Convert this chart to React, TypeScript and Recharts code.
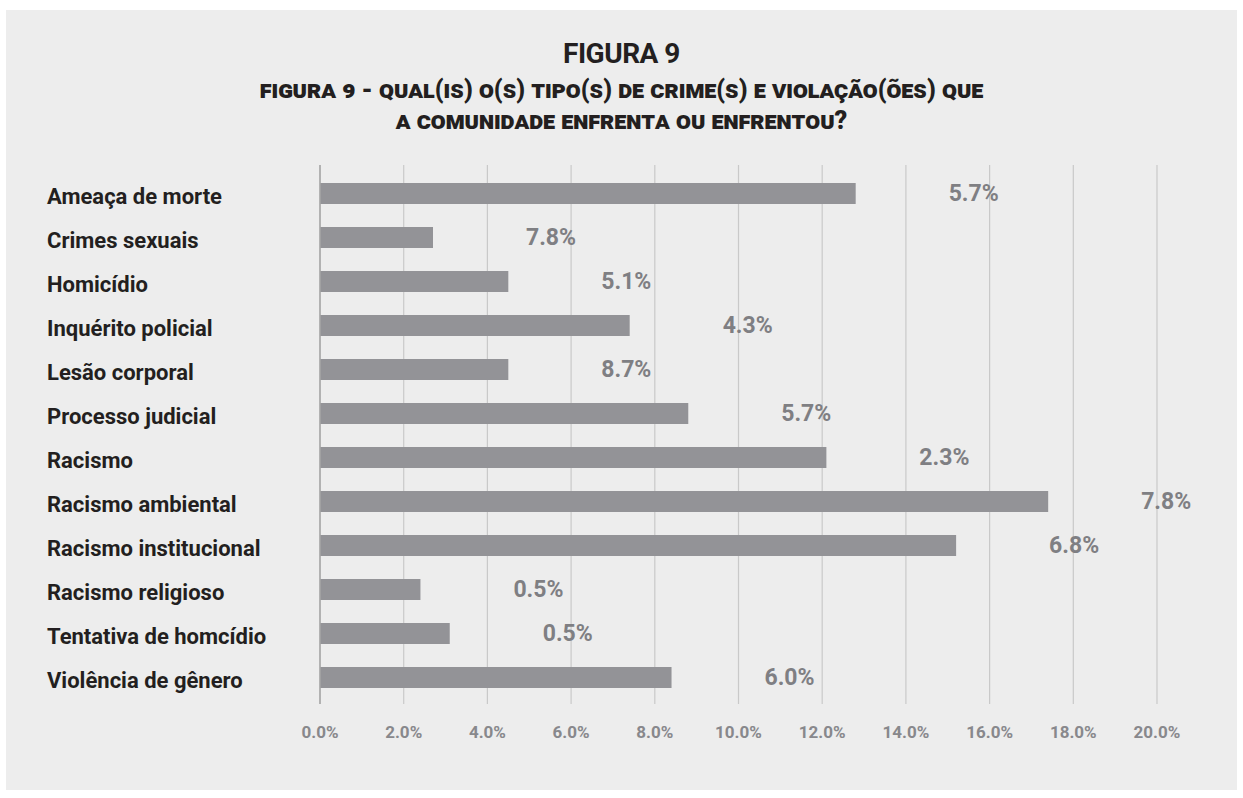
import React from 'react';
import { BarChart, Bar, XAxis, YAxis, CartesianGrid, LabelList } from 'recharts';

const categories = [
  'Ameaça de morte',
  'Crimes sexuais',
  'Homicídio',
  'Inquérito policial',
  'Lesão corporal',
  'Processo judicial',
  'Racismo',
  'Racismo ambiental',
  'Racismo institucional',
  'Racismo religioso',
  'Tentativa de homcídio',
  'Violência de gênero',
];

const values = [12.8, 2.7, 4.5, 7.4, 4.5, 8.8, 12.1, 17.4, 15.2, 2.4, 3.1, 8.4];

const valueLabels = ['5.7%', '7.8%', '5.1%', '4.3%', '8.7%', '5.7%', '2.3%', '7.8%', '6.8%', '0.5%', '0.5%', '6.0%'];

const xTicks = [0, 2, 4, 6, 8, 10, 12, 14, 16, 18, 20];

const data = categories.map((name, i) => ({ name, value: values[i], label: valueLabels[i] }));

const FONT = 'Roboto, "Noto Sans", sans-serif';

const CategoryTick = (props: any) => {
  const { y, payload } = props;
  return (
    <text x={41} y={y + 3} dominantBaseline="central" textAnchor="start" fill="#231f20" fontSize={22} fontWeight={700} fontFamily={FONT}>
      {payload.value}
    </text>
  );
};

const PercentTick = (props: any) => {
  const { x, y, payload } = props;
  return (
    <text x={x} y={y + 28} dominantBaseline="central" textAnchor="middle" fill="#88888c" fontSize={17} fontWeight={700} fontFamily={FONT}>
      {payload.value.toFixed(1) + '%'}
    </text>
  );
};

const ValueLabel = (props: any) => {
  const { x, y, width, height, index } = props;
  return (
    <text x={x + width + 118} y={y + height / 2} dominantBaseline="central" textAnchor="middle" fill="#7f7f83" fontSize={23} fontWeight={700} fontFamily={FONT}>
      {valueLabels[index]}
    </text>
  );
};

export default function App() {
  return (
    <div style={{ position: 'absolute', left: 6, top: 10, width: 1231, height: 780, background: '#ededed' }}>
      <div style={{ position: 'absolute', left: 0, top: 28, width: '100%', textAlign: 'center', fontFamily: FONT, color: '#231f20' }}>
        <div style={{ fontSize: 28, fontWeight: 700, lineHeight: '32px', letterSpacing: -0.5 }}>FIGURA 9</div>
        <div style={{ fontSize: 25, fontWeight: 900, lineHeight: '31px', fontVariantCaps: 'all-small-caps', marginTop: 4 }}>
          Figura 9 - Qual(is) o(s) tipo(s) de crime(s) e violação(ões) que
          <br />a comunidade enfrenta ou enfrentou?
        </div>
      </div>
      <div style={{ position: 'absolute', left: 0, top: 0 }}>
        <BarChart width={1231} height={770} data={data} layout="vertical" margin={{ top: 155, right: 80, bottom: 36, left: 0 }}>
          <CartesianGrid horizontal={false} stroke="#c9c9c9" strokeWidth={1.2} />
          <XAxis type="number" domain={[0, 20]} ticks={xTicks} axisLine={false} tickLine={false} tickSize={0} tickMargin={0} height={40} tick={<PercentTick />} />
          <YAxis type="category" dataKey="name" width={314} axisLine={{ stroke: '#a6a6a6', strokeWidth: 1.5 }} tickLine={false} padding={{ top: 6, bottom: 5 }} tick={<CategoryTick />} interval={0} />
          <Bar dataKey="value" fill="#939397" barSize={21} isAnimationActive={false}>
            <LabelList dataKey="label" content={<ValueLabel />} />
          </Bar>
        </BarChart>
      </div>
    </div>
  );
}
